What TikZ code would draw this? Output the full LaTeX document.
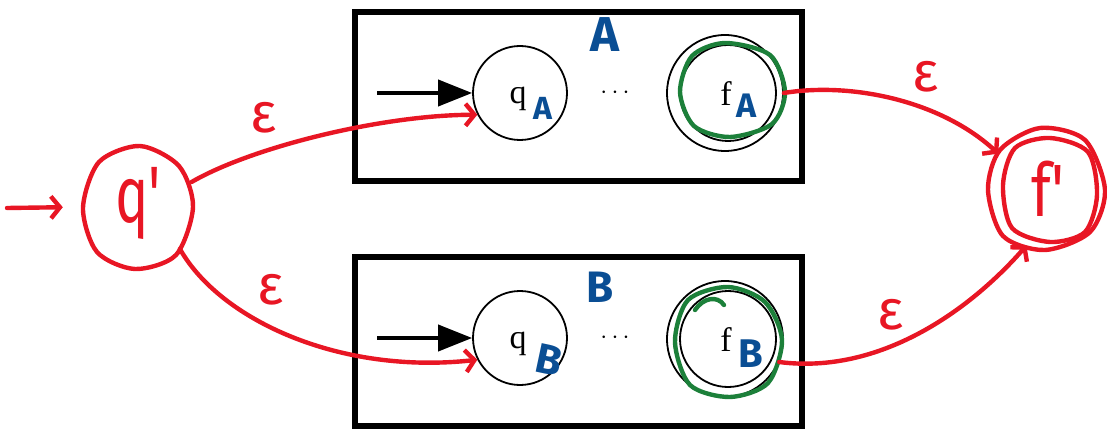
\documentclass[tikz,border=0pt]{standalone}
\usepackage{fontspec}
\usepackage{graphicx}
\setmainfont{Liberation Serif}
\newfontfamily\hand{Fira Sans}
\usetikzlibrary{arrows.meta}

\definecolor{inkred}{RGB}{232,22,36}
\definecolor{inkgreen}{RGB}{28,128,58}
\definecolor{inkblue}{RGB}{10,78,148}

\tikzset{
  frame/.style={draw, line width=5.5pt},
  state/.style={draw, circle, line width=1.8pt, minimum size=94pt, inner sep=0pt},
  finalstate/.style={state, minimum size=116pt},
  startarrow/.style={line width=4pt, -{Triangle[length=34pt,width=26pt]}},
  statelabel/.style={font=\fontsize{34}{34}\selectfont, inner sep=0pt},
  handblue/.style={text=inkblue, inner sep=0pt},
  handred/.style={text=inkred, inner sep=0pt},
  redline/.style={draw=inkred, line width=4.4pt, line cap=round, line join=round},
  redarrow/.style={redline, -{Straight Barb[length=9pt,width=22pt,line width=4.4pt]}},
  greenring/.style={draw=inkgreen, line width=4.4pt, line cap=round},
  eps/.style={handred, font=\hand\fontsize{56}{56}\selectfont},
}

\begin{document}
\begin{tikzpicture}[x=1pt,y=-1pt]
\useasboundingbox (0,0) rectangle (1107,430);

% automaton A
\draw[frame] (355,12) rectangle (802,181);
\node[state] (qA) at (520,93) {};
\node[finalstate] (fA) at (725,93) {};
\draw[line width=1.8pt] (728,93) circle[radius=48pt];
\node[statelabel] (qAt) at (518,99) {q};
\node[statelabel] (fAt) at (726,94) {f};
\node[statelabel] (dotsA) at (615,93) {$\cdots$};
\coordinate (inA) at (377,93);
\draw[startarrow] (inA) -- (qA.west);
\node[handblue, font=\hand\bfseries\fontsize{49}{49}\selectfont] (labA) at (605,35) {A};
\node[handblue, font=\hand\bfseries\fontsize{32}{32}\selectfont] (subqA) at (543,108) {A};
\node[handblue, font=\hand\bfseries\fontsize{34}{34}\selectfont] (subfA) at (747,106) {A};
\draw[greenring] plot[smooth cycle] coordinates {(785,92) (770,55) (725,43) (692,56) (680,92) (694,126) (730,137) (772,124)};

% automaton B
\draw[frame] (355,257) rectangle (802,426);
\node[state] (qB) at (520,338) {};
\node[finalstate] (fB) at (725,339) {};
\draw[line width=1.8pt] (728,339) circle[radius=48pt];
\node[statelabel] (qBt) at (518,344) {q};
\node[statelabel] (fBt) at (726,340) {f};
\node[statelabel] (dotsB) at (615,338) {$\cdots$};
\coordinate (inB) at (377,338);
\draw[startarrow] (inB) -- (qB.west);
\node[handblue, font=\hand\bfseries\fontsize{44}{44}\selectfont] (labB) at (600,287) {B};
\node[handblue, font=\hand\bfseries\fontsize{42}{42}\selectfont, rotate=-12] (subqB) at (549,360) {B};
\node[handblue, font=\hand\bfseries\fontsize{40}{40}\selectfont] (subfB) at (751,354) {B};
\draw[greenring] plot[smooth cycle] coordinates {(782,340) (765,302) (728,287) (688,300) (675,342) (690,385) (730,397) (768,383)};
\draw[greenring] (695,310) .. controls (703,298) and (717,295) .. (724,305);

% new start state
\node[circle, minimum size=118pt, inner sep=0pt] (qp) at (138,207) {};
\draw[redline] plot[smooth cycle] coordinates {(193,207) (179,166) (140,146) (99,162) (83,208) (97,252) (135,269) (176,255)};
\node[handred, font=\hand\fontsize{80}{80}\selectfont] (qpt) at (138,203) {\scalebox{0.7}[1]{q\textquotesingle}};
\coordinate (inqp) at (7,208);
\draw[redarrow, shorten >=16pt] (inqp) -- (qp.west);

% new final state
\node[circle, minimum size=120pt, inner sep=0pt] (fp) at (1047,189) {};
\draw[redline] plot[smooth cycle] coordinates {(1105,190) (1090,232) (1045,250) (1003,236) (988,190) (1000,150) (1040,128) (1085,140)};
\draw[redline] plot[smooth cycle] coordinates {(1097,195) (1085,232) (1050,242) (1012,228) (1003,185) (1015,148) (1050,138) (1088,152)};
\node[handred, font=\hand\fontsize{74}{74}\selectfont] (fpt) at (1048,189) {\scalebox{0.8}[1]{f\textquotesingle}};

% epsilon transitions
\draw[redarrow] (qp.25) .. controls (250,148) and (380,115) .. (qA.207);
\draw[redarrow] (qp.-45) .. controls (220,320) and (340,375) .. (qB.207);
\draw[redarrow] (fA.east) .. controls (850,82) and (940,100) .. (fp.144);
\draw[redarrow] (fB.-23) .. controls (880,375) and (970,310) .. (fp.250);
\node[eps] (e1) at (264,118) {ε};
\node[eps] (e2) at (271,290) {ε};
\node[eps] (e3) at (926,77) {ε};
\node[eps] (e4) at (891,315) {ε};
\end{tikzpicture}
\end{document}
